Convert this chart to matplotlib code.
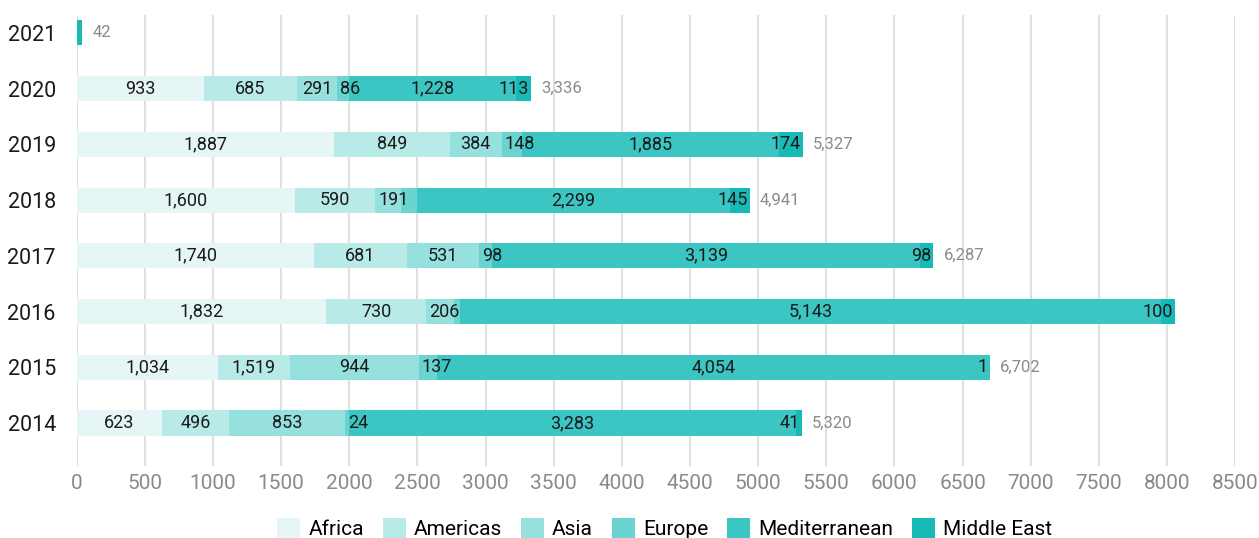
import matplotlib
matplotlib.use("Agg")
import matplotlib.pyplot as plt
import numpy as np

plt.rcParams['font.family'] = ['Roboto', 'DejaVu Sans']

# data (bottom row first)
years = ['2014', '2015', '2016', '2017', '2018', '2019', '2020', '2021']
regions = ['Africa', 'Americas', 'Asia', 'Europe', 'Mediterranean', 'Middle East']
africa = [623, 1034, 1832, 1740, 1600, 1887, 933, 0]
americas = [496, 532, 730, 681, 590, 849, 685, 0]
asia = [853, 944, 206, 531, 191, 384, 291, 0]
europe = [24, 137, 46, 98, 116, 148, 86, 0]
mediterranean = [3283, 4054, 5143, 3139, 2299, 1885, 1228, 0]
middle_east = [41, 1, 100, 98, 145, 174, 113, 42]
totals = [5320, 6702, None, 6287, 4941, 5327, 3336, 42]

# label text as printed in the source (where it differs) and hidden labels
label_override = {('Americas', '2015'): '1,519'}
hidden = {('Europe', '2016'), ('Europe', '2018'), ('Middle East', '2021')}

colors = ['#e6f6f6', '#b8eae8', '#96e0dd', '#6bd4d1', '#3bc5c3', '#17bab6']
series = [africa, americas, asia, europe, mediterranean, middle_east]

fig = plt.figure(figsize=(12.59, 5.38), dpi=100)
ax = fig.add_axes([0.0609, 0.134, 0.981 - 0.0609, 0.972 - 0.134])

xmax = 8500
ax.set_xlim(0, xmax)
ax.set_ylim(-0.77, 7.32)
px = xmax / (ax.get_position().width * 1259)  # data units per pixel

y = np.arange(len(years))
left = np.zeros(len(years))
bar_h = 0.45
for name, vals, col in zip(regions, series, colors):
    vals = np.array(vals, dtype=float)
    ax.barh(y, vals, left=left, height=bar_h, color=col, label=name, zorder=2)
    for i, v in enumerate(vals):
        if v <= 0 or (name, years[i]) in hidden:
            continue
        txt = label_override.get((name, years[i]), f"{int(v):,}")
        tw = len(txt) * 9.5 * px
        start, end = left[i], left[i] + v
        if name == 'Middle East':
            ax.text(end - 2 * px, y[i], txt, ha='right', va='center',
                    fontsize=13, color='#1a1a1a', zorder=3)
        elif tw < v:
            ax.text((start + end) / 2, y[i], txt, ha='center', va='center',
                    fontsize=13, color='#1a1a1a', zorder=3)
        else:
            ax.text(start + 3 * px, y[i], txt, ha='left', va='center',
                    fontsize=13, color='#1a1a1a', zorder=3)
    left = left + vals

for i, t in enumerate(totals):
    if t is None:
        continue
    ax.text(left[i] + 10 * px, y[i], f"{t:,}", ha='left', va='center',
            fontsize=12, color='#8a8a8a')

ax.set_yticks(y)
ax.set_yticklabels(years, fontsize=15.5, color='#1a1a1a')
ax.set_xticks(np.arange(0, xmax + 1, 500))
ax.tick_params(axis='x', labelsize=15, labelcolor='#8a8a8a', length=0, pad=6)
ax.tick_params(axis='y', length=0, pad=15)
ax.grid(axis='x', color='#e0e0e0', linewidth=1.5, zorder=0)
ax.set_axisbelow(True)
for s in ax.spines.values():
    s.set_visible(False)

fig.legend(loc='center', bbox_to_anchor=(0.528, 0.018), ncol=6, frameon=False,
           fontsize=15, handlelength=1.1, handleheight=1.1, handletextpad=0.4,
           columnspacing=0.9)

fig.savefig('out.png', dpi=100)
